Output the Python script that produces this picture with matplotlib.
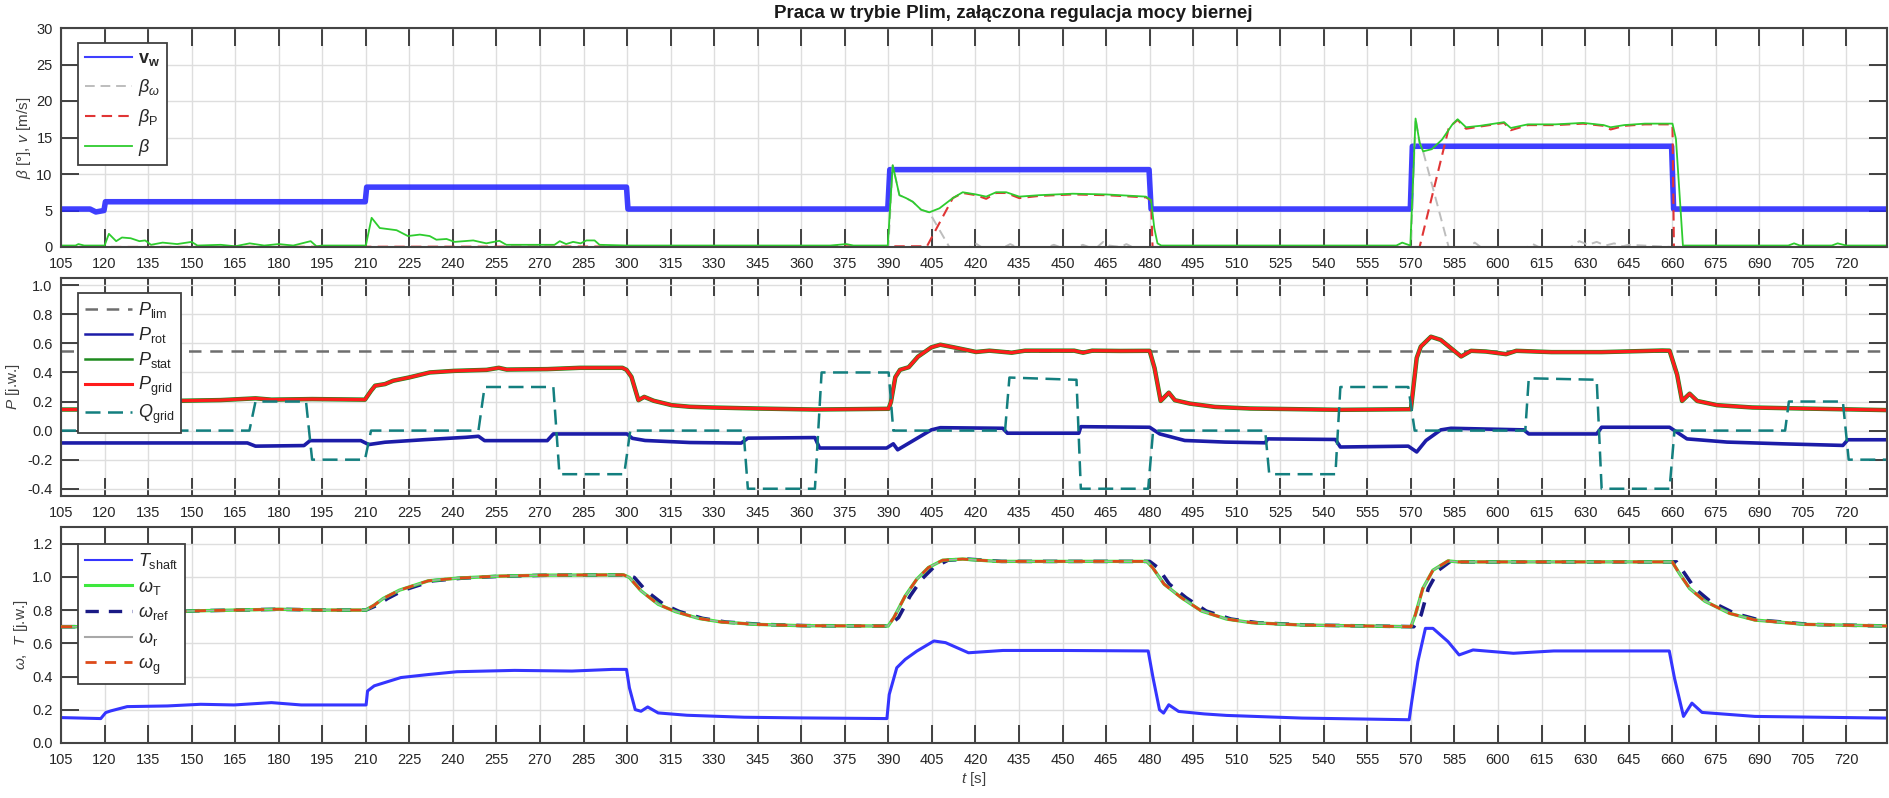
import numpy as np
import matplotlib
matplotlib.use("Agg")
import matplotlib.pyplot as plt
from matplotlib.ticker import FormatStrFormatter

plt.rcParams['font.family'] = ['Liberation Sans', 'DejaVu Sans']
plt.rcParams['mathtext.fontset'] = 'custom'
plt.rcParams['mathtext.rm'] = 'Liberation Sans'
plt.rcParams['mathtext.it'] = 'Liberation Sans:italic'
plt.rcParams['mathtext.bf'] = 'Liberation Sans:bold'
plt.rcParams['axes.unicode_minus'] = False

# ---------------- data ----------------
# panel 1: wind speed and pitch angles
t_vw = [105, 115, 117, 119.8, 120.3, 209.8, 210.3, 299.8, 300.3, 389.8, 390.5,
        479.8, 480.5, 569.8, 570.5, 659.8, 660.5, 734]
v_w = [5.2, 5.2, 4.8, 5.0, 6.2, 6.2, 8.2, 8.2, 5.2, 5.2, 10.6,
       10.6, 5.2, 5.2, 13.8, 13.8, 5.2, 5.2]

t_betaw = [105, 390, 391.5, 393.8, 396.1, 398.4, 401.3, 404.1, 411, 418,
           420, 422, 430, 432, 434, 445, 447, 449, 455, 457,
           459, 462, 464, 466, 470, 472, 474, 480, 570, 571.6,
           573, 574.2, 583, 590, 592, 594, 610, 612, 614, 625,
           628, 631, 634, 637, 640, 643, 645, 660, 734]
beta_w = [0, 0, 11.2, 7.1, 6.7, 6.2, 5.1, 4.75, 0, 0,
          0.5, 0, 0, 0.4, 0, 0, 0.3, 0, 0, 0.3,
          0, 0, 0.7, 0.2, 0, 0.4, 0, 0, 0, 17.6,
          14.3, 13.1, 0, 0, 0.6, 0, 0, 0.4, 0, 0,
          0.8, 0.3, 0.7, 0.2, 0.5, 0.1, 0.3, 0, 0]

t_betap = [105, 403.3, 412.2, 415.6, 420.2, 423.7, 427.1, 430.6, 435.1, 442,
           453.5, 465, 478.7, 480.5, 481, 573, 583.1, 586.1, 589, 593.8,
           602.1, 604.4, 610.3, 619.8, 629.3, 636.4, 638.8, 643.5, 650.6, 660.1,
           660.6, 734]
beta_p = [0, 0.1, 6.7, 7.4, 7.1, 6.6, 7.4, 7.4, 6.7, 7.0,
          7.2, 7.1, 6.8, 6.4, 0, 0, 16.4, 17.4, 16.2, 16.5,
          17.0, 16.0, 16.7, 16.7, 16.9, 16.6, 16.1, 16.6, 16.8, 16.8,
          0, 0]

t_beta = [105, 110, 111, 113, 120, 121.5, 124, 126, 129, 132,
          134, 136, 140, 145, 150, 152, 160, 165, 170, 175,
          180, 185, 191, 193, 195, 210, 212, 214.8, 220.6, 224.5,
          228.6, 232, 234.3, 237.8, 240.6, 247, 251.5, 256, 258.4, 275,
          276.8, 279, 281.4, 284, 286, 288.8, 290.5, 300, 370, 375.5,
          378, 389.8, 391.5, 393.8, 396.1, 398.4, 401.3, 404.1, 407.6, 412.2,
          415.6, 420.2, 423.7, 427.1, 430.6, 435.1, 442, 453.5, 465, 478.7,
          480.5, 481.6, 482.7, 484, 565, 567, 569.8, 571.6, 573, 574.2,
          577.2, 580.7, 584.3, 586.1, 589, 593.8, 602.1, 604.4, 610.3, 619.8,
          629.3, 636.4, 638.8, 643.5, 650.6, 660.1, 661.3, 663.7, 700, 702,
          704, 715, 717, 720, 734]
beta = [0.2, 0.2, 0.4, 0.2, 0.2, 1.8, 0.8, 1.3, 1.2, 0.8,
        0.9, 0.3, 0.6, 0.4, 0.7, 0.2, 0.3, 0.1, 0.5, 0.2,
        0.4, 0.2, 0.8, 0.1, 0.2, 0.2, 4.0, 2.6, 2.3, 1.5,
        1.7, 1.5, 1.0, 1.1, 0.7, 0.9, 0.5, 0.85, 0.3, 0.3,
        0.8, 0.4, 0.7, 0.5, 0.9, 0.9, 0.3, 0.2, 0.2, 0.4,
        0.2, 0.2, 11.2, 7.1, 6.7, 6.2, 5.1, 4.75, 5.3, 6.7,
        7.5, 7.2, 6.9, 7.5, 7.5, 6.9, 7.1, 7.3, 7.2, 6.9,
        6.4, 2.6, 0.5, 0.2, 0.2, 0.6, 0.2, 17.6, 14.3, 13.1,
        13.4, 14.7, 16.8, 17.5, 16.4, 16.6, 17.1, 16.3, 16.8, 16.8,
        17.0, 16.7, 16.4, 16.7, 16.9, 16.9, 14.8, 0.2, 0.2, 0.5,
        0.2, 0.2, 0.5, 0.2, 0.2]

# panel 2: powers
t_plim = [105, 734]
p_lim = [0.545, 0.545]

t_prot = [105, 169.2, 172, 188.7, 190.8, 208.3, 211, 216.6, 230.6, 244.6,
          248.8, 250.9, 272.5, 274.6, 300, 301.8, 306.2, 321.6, 339.3, 341.6,
          364.7, 366.3, 389.4, 391.7, 393.2, 397.1, 404.8, 407.9, 429.4, 431,
          455.6, 456.3, 480, 483.5, 492.1, 506, 519.8, 520.7, 544, 545.7,
          569.1, 572, 575.2, 580.3, 583.8, 608.9, 610.6, 634, 635.7, 659.1,
          665.1, 678.9, 698, 718.8, 720.5, 734]
p_rot = [-0.085, -0.085, -0.107, -0.103, -0.069, -0.069, -0.096, -0.08, -0.062, -0.046,
         -0.039, -0.069, -0.069, -0.023, -0.023, -0.053, -0.068, -0.082, -0.086, -0.052,
         -0.048, -0.12, -0.12, -0.091, -0.132, -0.086, 0.005, 0.02, 0.016, -0.018,
         -0.018, 0.027, 0.023, -0.023, -0.068, -0.079, -0.084, -0.057, -0.061, -0.113,
         -0.107, -0.147, -0.068, 0.005, 0.016, 0.005, -0.023, -0.023, 0.023, 0.023,
         -0.057, -0.079, -0.091, -0.102, -0.063, -0.063]

t_pgrid = [105, 118, 120, 122, 130, 145.4, 160, 172, 177.5, 191.5,
           209.7, 211.8, 213.2, 216.6, 219.4, 225, 232, 240.4, 251.6, 255.8,
           258.5, 272.5, 283.7, 298.4, 299.8, 301.5, 303.9, 305.9, 309.2, 315.4,
           321.6, 329.3, 344.7, 364.7, 390.1, 390.9, 392.4, 394, 397, 400.2,
           404.8, 407.9, 412.5, 420.2, 424.8, 432.5, 437.1, 454, 457.1, 460.2,
           470, 480, 481.7, 483.8, 486.6, 488.7, 493.8, 502.5, 514.6, 531.9,
           545.7, 570, 572, 573.4, 576.9, 580.3, 583.8, 587.3, 590.7, 595.9,
           602.8, 606.3, 618.4, 635.7, 656.5, 659.1, 661.7, 663.4, 666, 668.6,
           675.5, 687.6, 704.9, 734]
p_grid = [0.145, 0.145, 0.15, 0.19, 0.205, 0.205, 0.21, 0.222, 0.213, 0.217,
          0.213, 0.274, 0.309, 0.32, 0.343, 0.366, 0.4, 0.411, 0.418, 0.432,
          0.42, 0.423, 0.432, 0.432, 0.418, 0.37, 0.209, 0.232, 0.205, 0.175,
          0.164, 0.159, 0.152, 0.145, 0.15, 0.198, 0.368, 0.418, 0.436, 0.509,
          0.573, 0.591, 0.573, 0.541, 0.55, 0.536, 0.55, 0.55, 0.536, 0.55,
          0.548, 0.549, 0.43, 0.204, 0.261, 0.209, 0.186, 0.163, 0.152, 0.147,
          0.143, 0.147, 0.5, 0.578, 0.646, 0.624, 0.567, 0.51, 0.549, 0.544,
          0.526, 0.549, 0.54, 0.54, 0.551, 0.55, 0.385, 0.204, 0.254, 0.204,
          0.175, 0.159, 0.152, 0.141]
# stator power lies on top of the grid power
t_pstat = t_pgrid
p_stat = p_grid

t_qgrid = [105, 169.9, 172, 189.4, 191.5, 209.7, 211.8, 248.8, 250.9, 274.6,
           276.7, 299, 301.1, 340.1, 341.6, 364.7, 367, 390.1, 391.7, 430.2,
           431.7, 454, 454.8, 456.3, 479.5, 481.2, 519.8, 521.2, 544, 545.7,
           569.1, 571.3, 609.4, 610.6, 634, 635.7, 659.1, 660.8, 698.9, 700.2,
           718.8, 720.8, 734]
q_grid = [0, 0, 0.2, 0.2, -0.2, -0.2, 0, 0, 0.3, 0.3,
          -0.3, -0.3, 0, 0, -0.4, -0.4, 0.4, 0.4, 0, 0,
          0.365, 0.35, 0.35, -0.4, -0.4, 0, 0, -0.3, -0.3, 0.3,
          0.3, 0, 0, 0.36, 0.35, -0.4, -0.4, 0, 0, 0.2,
          0.2, -0.2, -0.2]

# panel 3: speeds and shaft torque
t_tshaft = [105, 118.7, 120.4, 122.1, 127.8, 141.6, 153.1, 164.6, 177.5, 187.7,
            199.2, 210.1, 210.6, 212.9, 222.1, 231.5, 241.4, 261.2, 281, 294.9,
            299.8, 300.8, 302.8, 304.8, 307.1, 310.7, 320.6, 340.4, 360.2, 389.5,
            390.3, 392.9, 395.8, 399.8, 405.7, 409.7, 417.6, 429.5, 449.3, 479.5,
            481.2, 483.4, 484.8, 486.6, 490, 498.8, 506.5, 532.5, 569.4, 570.3,
            572.4, 575, 577.6, 582.8, 586.6, 591.4, 605.3, 619.2, 636.5, 659,
            660.8, 663.9, 666.8, 670.3, 688.5, 734]
t_shaft = [0.153, 0.147, 0.183, 0.193, 0.219, 0.223, 0.233, 0.229, 0.243, 0.229,
           0.229, 0.229, 0.313, 0.344, 0.394, 0.412, 0.429, 0.437, 0.433, 0.443,
           0.443, 0.332, 0.201, 0.191, 0.217, 0.181, 0.167, 0.155, 0.151, 0.147,
           0.292, 0.453, 0.503, 0.553, 0.614, 0.604, 0.543, 0.557, 0.557, 0.554,
           0.39, 0.2, 0.18, 0.23, 0.19, 0.175, 0.166, 0.15, 0.14, 0.25,
           0.49, 0.69, 0.69, 0.61, 0.53, 0.56, 0.54, 0.554, 0.554, 0.554,
           0.39, 0.16, 0.24, 0.184, 0.16, 0.15]

t_omega = [105, 120, 125, 130, 140, 150, 165, 180, 195, 210,
           212.9, 216, 221.6, 231.5, 241.4, 255.2, 271.1, 298.8, 300.8, 304.8,
           310.7, 316.6, 324.6, 332.5, 344.4, 360.2, 389.9, 391.9, 395.8, 399.8,
           403.8, 408.7, 415.6, 427.5, 479, 481, 485, 490.9, 497.9, 506.5,
           515.2, 532.5, 570, 571.5, 574.1, 577.6, 582.8, 586.2, 660, 662.5,
           666, 671.2, 679.8, 688.5, 705.8, 734]
omega = [0.7, 0.7, 0.74, 0.765, 0.785, 0.795, 0.8, 0.805, 0.8, 0.8,
         0.83, 0.87, 0.92, 0.976, 0.992, 1.004, 1.01, 1.012, 0.996, 0.916,
         0.835, 0.791, 0.75, 0.728, 0.714, 0.706, 0.704, 0.755, 0.885, 0.986,
         1.056, 1.1, 1.107, 1.093, 1.093, 1.056, 0.956, 0.875, 0.794, 0.746,
         0.724, 0.71, 0.70, 0.77, 0.93, 1.04, 1.096, 1.09, 1.09, 1.02,
         0.93, 0.854, 0.78, 0.74, 0.714, 0.704]

t_wref = [105, 120, 125, 130, 140, 150, 165, 180, 195, 210,
          214, 217.5, 223, 233, 243, 257, 273, 300, 302.5, 306.5,
          312.5, 318, 326, 334, 346, 362, 390, 393.5, 397.5, 401.5,
          405.5, 410.5, 417, 429, 480, 482.8, 486.8, 492.5, 499.5, 508,
          517, 534, 571, 573.5, 576, 579.5, 584.5, 587, 661.5, 664.3,
          667.8, 673, 681.5, 690, 707, 734]
w_ref = [0.7, 0.7, 0.74, 0.765, 0.785, 0.795, 0.8, 0.805, 0.8, 0.8,
         0.83, 0.87, 0.92, 0.976, 0.992, 1.004, 1.01, 1.012, 0.996, 0.916,
         0.835, 0.791, 0.75, 0.728, 0.714, 0.706, 0.704, 0.755, 0.885, 0.986,
         1.056, 1.1, 1.107, 1.093, 1.093, 1.056, 0.956, 0.875, 0.794, 0.746,
         0.724, 0.71, 0.70, 0.77, 0.93, 1.04, 1.105, 1.09, 1.09, 1.02,
         0.93, 0.854, 0.78, 0.74, 0.714, 0.704]

x_ticks = list(range(105, 721, 15))

# ---------------- figure ----------------
W, H = 1890, 798
fig = plt.figure(figsize=(W / 100, H / 100), dpi=100)

def px_axes(x0, y0, x1, y1):
    return fig.add_axes([x0 / W, 1 - y1 / H, (x1 - x0) / W, (y1 - y0) / H])

ax1 = px_axes(61, 28, 1887, 247)
ax2 = px_axes(61, 278, 1887, 496)
ax3 = px_axes(61, 527, 1887, 743)

TXT = '#262626'
LEG = dict(loc='upper left', borderaxespad=0, fontsize=13, handlelength=2.6,
           handletextpad=0.3, borderpad=0.4, fancybox=False,
           framealpha=1, edgecolor='#404040')


def style(ax, ylim, yticks, fmt, ylabel, labx):
    ax.set_xlim(105, 734)
    ax.set_xticks(x_ticks)
    ax.set_ylim(*ylim)
    ax.set_yticks(yticks)
    ax.yaxis.set_major_formatter(FormatStrFormatter(fmt))
    ax.grid(True, color='#dedede', lw=1.0)
    ax.set_axisbelow(True)
    ax.tick_params(direction='in', length=13, width=1.3, top=True, right=True,
                   labelsize=10.5, colors='#333333', labelcolor=TXT)
    ax.tick_params(axis='x', pad=7)
    ax.tick_params(axis='y', pad=6)
    for s in ax.spines.values():
        s.set_color('#444444')
        s.set_linewidth(1.5)
    ax.set_ylabel(ylabel, fontsize=11, color='#404040')
    ax.yaxis.set_label_coords(labx, 0.5)


def finish_legend(leg, widths):
    leg.get_frame().set_linewidth(1.3)
    for txt in leg.get_texts():
        txt.set_color(TXT)
    for line, w in zip(leg.get_lines(), widths):
        line.set_linewidth(w)


# panel 1
ax1.plot(t_vw, v_w, color='#2a2aff', lw=4.0, alpha=0.9, label=r'$\mathbf{v}_{\mathbf{w}}$')
ax1.plot(t_betaw, beta_w, color='#bdbdbd', lw=1.4, ls=(0, (5, 3)), label=r'$\beta_\omega$')
ax1.plot(t_betap, beta_p, color='#e03535', lw=1.5, ls=(0, (5, 3)), label=r'$\beta_{\rm P}$')
ax1.plot(t_beta, beta, color='#2ecc2e', lw=1.3, label=r'$\beta$')
style(ax1, (0, 30), range(0, 31, 5), '%d', r'$\beta$ [°], $v$ [m/s]', -0.0153)
leg1 = ax1.legend(bbox_to_anchor=(0.0093, 0.932), labelspacing=0.5, **LEG)
finish_legend(leg1, [1.5, 1.4, 1.5, 1.3])
fig.text(1013 / W, 1 - 13 / H, 'Praca w trybie Plim, załączona regulacja mocy biernej',
         fontsize=13.5, fontweight='bold', color='#1a1a1a', ha='center', va='center')

# panel 2
ax2.plot(t_plim, p_lim, color='#6e6e6e', lw=1.8, ls=(0, (5, 3.5)), label=r'$P_{\rm lim}$')
ax2.plot(t_prot, p_rot, color='#1c1ca8', lw=2.6, label=r'$P_{\rm rot}$')
ax2.plot(t_pstat, p_stat, color='#1e8a1e', lw=3.2, label=r'$P_{\rm stat}$')
ax2.plot(t_pgrid, p_grid, color='#ff1c1c', lw=2.3, label=r'$P_{\rm grid}$')
ax2.plot(t_qgrid, q_grid, color='#137f7f', lw=1.8, ls=(0, (6, 3)), label=r'$Q_{\rm grid}$')
style(ax2, (-0.45, 1.05), np.arange(-0.4, 1.01, 0.2), '%.1f', r'$P$ [j.w.]', -0.0213)
leg2 = ax2.legend(bbox_to_anchor=(0.0093, 0.931), labelspacing=0.27, **LEG)
finish_legend(leg2, [1.8, 1.8, 1.8, 2.2, 1.8])

# panel 3
ax3.plot(t_tshaft, t_shaft, color='#3535ff', lw=2.2, label=r'$T_{\rm shaft}$', zorder=2)
ax3.plot(t_wref, w_ref, color='#1a1a85', lw=2.6, ls=(0, (4, 3)),
         label=r'$\omega_{\rm ref}$', zorder=2)
ax3.plot(t_omega, omega, color='#3ee83e', lw=2.4, label=r'$\omega_{\rm T}$', zorder=3)
ax3.plot(t_omega, omega, color='#a8a8a8', lw=1.0, label=r'$\omega_{\rm r}$', zorder=3)
ax3.plot(t_omega, omega, color='#dd4a1a', lw=2.0, ls=(0, (4, 3)),
         label=r'$\omega_{\rm g}$', zorder=4)
style(ax3, (0, 1.3), np.arange(0, 1.21, 0.2), '%.1f', r'$\omega$,  $T$ [j.w.]', -0.0170)
h, lab = ax3.get_legend_handles_labels()
order = [0, 2, 1, 3, 4]
leg3 = ax3.legend([h[i] for i in order], [lab[i] for i in order],
                  bbox_to_anchor=(0.0093, 0.922), labelspacing=0.42, **LEG)
finish_legend(leg3, [1.5, 2.2, 2.4, 1.5, 2.0])
ax3.set_xlabel(r'$t$ [s]', fontsize=11, color='#404040', labelpad=2)

fig.savefig('out.png', dpi=100)
